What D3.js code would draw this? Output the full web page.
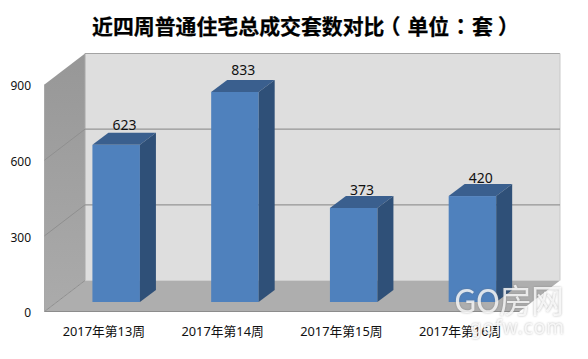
<!DOCTYPE html>
<html><head><meta charset="utf-8">
<script src="https://cdn.jsdelivr.net/npm/d3@7/dist/d3.min.js"></script>
<style>html,body{margin:0;padding:0;background:#fff}svg{display:block}
text{font-family:"Noto Sans","Noto Sans CJK SC",sans-serif}</style></head>
<body><svg id="c" width="588" height="359"></svg>
<script>
const categories = ["2017年第13周","2017年第14周","2017年第15周","2017年第16周"];
const values = [623,833,373,420];
const yTicks = [0,300,600,900];
const titleParts = ["近四周普通住宅总成交套数对比","（","单位","：","套","）"];

const svg = d3.select("#c");
const dx = 40.5, dy = 31;              // floor depth (oblique projection)
const x0 = 44.5, x1 = 519.5;           // front plane extents
const barDx = 12.3, barDy = 9.5;       // bar offset from the front plane
const sideDx = 16, sideDy = 12;        // bar's own depth
const titleGaps = [0,-5,7,1,1,5];      // extra space before each title run

const y = d3.scaleLinear().domain([0,900]).range([280.5,53.5]);   // back plane
const x = d3.scaleBand().domain(categories).range([x0,x1]).paddingInner(0.6).paddingOuter(0.3);

const defs = svg.append("defs");
const g = defs.append("linearGradient").attr("id","wall").attr("x1",0).attr("x2",0).attr("y1",0).attr("y2",1);
g.append("stop").attr("offset",0).attr("stop-color","#979797");
g.append("stop").attr("offset",1).attr("stop-color","#ababab");

const poly = pts => pts.map(p=>p.join(",")).join(" ");
const wallTop = y(900), base = y(0), fb = base+dy;

// back wall, left wall, floor
svg.append("polygon").attr("points",poly([[x0+dx,wallTop],[x1+dx,wallTop],[x1+dx,base],[x0+dx,base]])).attr("fill","#dedede");
svg.append("polygon").attr("points",poly([[x0,wallTop+dy],[x0+dx,wallTop],[x0+dx,base],[x0,fb]])).attr("fill","url(#wall)");
svg.append("polygon").attr("points",poly([[x0,fb],[x0+dx,base],[x1+dx,base],[x1,fb]])).attr("fill","#aeaeae");

// outlines
svg.append("line").attr("x1",x0+dx).attr("x2",x1+dx).attr("y1",wallTop).attr("y2",wallTop).attr("stroke","#a3a3a3").attr("stroke-width",1.2);
svg.append("line").attr("x1",x0).attr("x2",x1).attr("y1",fb).attr("y2",fb).attr("stroke","#8c8c8c").attr("stroke-width",1.2);
svg.append("line").attr("x1",x0).attr("x2",x0).attr("y1",wallTop+dy).attr("y2",fb).attr("stroke","#a8a8a8");
svg.append("line").attr("x1",x0+dx).attr("x2",x0+dx).attr("y1",wallTop).attr("y2",base).attr("stroke","#a8a8a8");
svg.append("line").attr("x1",x1+dx).attr("x2",x1+dx).attr("y1",wallTop).attr("y2",base).attr("stroke","#c9c9c9");

// gridlines
const grid = svg.append("g").attr("fill","none");
yTicks.filter(t=>t>0&&t<900).forEach(t=>{
  grid.append("path").attr("d",`M${x0+dx},${y(t)}H${x1+dx}`).attr("stroke","#959595").attr("stroke-width",1.1);
  grid.append("path").attr("d",`M${x0},${y(t)+dy}L${x0+dx},${y(t)}`).attr("stroke","#8f8f8f");
});
svg.append("path").attr("fill","none").attr("stroke","#8f8f8f").attr("d",`M${x0},${fb}L${x0+dx},${base}`);

// bars
const bars = svg.append("g").selectAll("g").data(categories.map((c,i)=>({c,v:values[i]}))).join("g");
const fx = d=>x(d.c)+barDx, fw = x.bandwidth();
const byBase = y(0)+dy-barDy, ty = d=>byBase-(y(0)-y(d.v));
bars.append("rect").attr("x",fx).attr("y",ty).attr("width",fw).attr("height",d=>byBase-ty(d)).attr("fill","#4f81bd");
bars.append("polygon").attr("fill","#3a5f8e").attr("points",d=>poly([[fx(d),ty(d)],[fx(d)+sideDx,ty(d)-sideDy],[fx(d)+fw+sideDx,ty(d)-sideDy],[fx(d)+fw,ty(d)]]));
bars.append("polygon").attr("fill","#2f5078").attr("points",d=>poly([[fx(d)+fw,ty(d)],[fx(d)+fw+sideDx,ty(d)-sideDy],[fx(d)+fw+sideDx,byBase-sideDy],[fx(d)+fw,byBase]]));
bars.append("text").attr("x",d=>fx(d)+32).attr("y",d=>ty(d)-(15+d.v*0.008)).attr("dy","0.36em").attr("text-anchor","middle")
  .attr("font-size",14).attr("fill","#111").text(d=>d.v);

// axes
const yAxis = svg.append("g").attr("transform",`translate(37,${dy+1.5})`)
  .call(d3.axisLeft(y).tickValues(yTicks).tickSize(0).tickPadding(6));
yAxis.select(".domain").remove();
yAxis.selectAll("text").attr("font-size",12).attr("fill","#111").style("font-family",'"Noto Sans",sans-serif');
const xAxis = svg.append("g").attr("transform",`translate(0,${fb})`)
  .call(d3.axisBottom(x).tickSize(0).tickPadding(15));
xAxis.select(".domain").remove();
xAxis.selectAll("text").attr("font-size",12.8).attr("fill","#111").style("font-family",'"Noto Sans","Noto Sans CJK SC",sans-serif');

// title: main run, then the bracketed unit with centred punctuation
const title = svg.append("text").attr("x",92).attr("y",26).attr("dy","0.36em")
  .attr("font-size",20.9).attr("font-weight",700).attr("fill","#000")
  .attr("stroke","#000").attr("stroke-width",0.25)
  .style("font-family",'"Noto Sans CJK SC",sans-serif');
titleParts.forEach((t,i)=>{
  title.append("tspan").attr("dx",titleGaps[i]).style("font-family",i%2 ? '"Noto Sans CJK TC",sans-serif' : '"Noto Sans CJK SC",sans-serif').text(t);
});

// watermark
const wm = svg.append("g").attr("fill","#fff").attr("fill-opacity",0.8)
  .style("filter","drop-shadow(0 0 1.2px rgba(110,110,110,0.6))");
wm.append("text").attr("x",454).attr("y",313).attr("font-size",33).style("font-family",'"Noto Sans CJK SC",sans-serif').attr("textLength",110).text("GO房网");
wm.append("text").attr("x",470).attr("y",334).attr("font-size",19).attr("textLength",94).text("gofw.com");
</script></body></html>
